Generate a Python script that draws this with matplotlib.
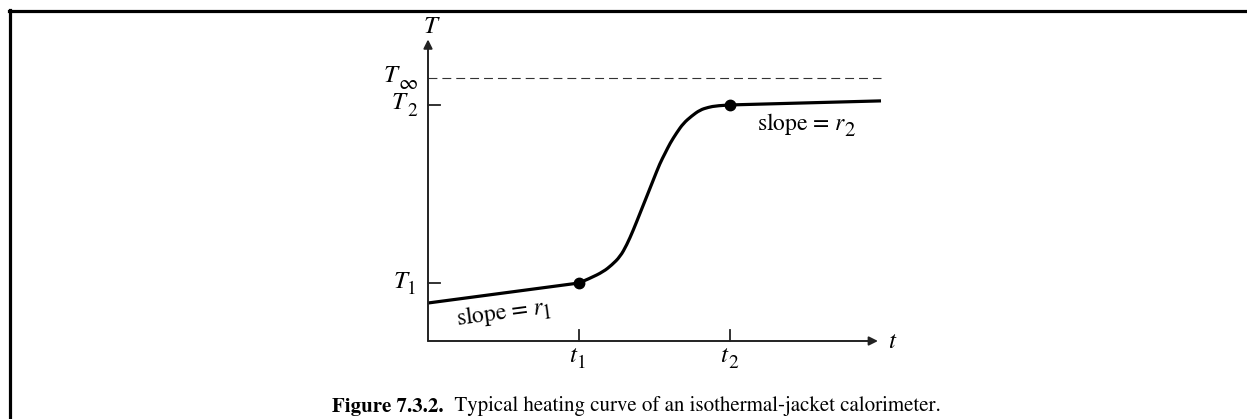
import matplotlib
matplotlib.use("Agg")
import matplotlib.pyplot as plt
from matplotlib.lines import Line2D
from matplotlib.path import Path
from matplotlib.patches import PathPatch

plt.rcParams['font.family'] = 'STIXGeneral'
plt.rcParams['mathtext.fontset'] = 'stix'

# valores (unidades arbitrarias)
t_marks = [1.0, 2.0]                  # t1, t2
T1, T2, T_inf = 1.0, 4.07, 4.53

# tramo inicial (pendiente r1), subida, tramo final (pendiente r2)
t_pre = [0.0, 1.0]
T_pre = [0.655, 1.0]
t_rise = [1.0, 1.073, 1.161, 1.217, 1.272, 1.316, 1.360, 1.404, 1.448, 1.492,
          1.536, 1.570, 1.603, 1.647, 1.691, 1.746, 1.801, 1.856, 1.912, 2.0]
T_rise = [1.0, 1.081, 1.195, 1.310, 1.453, 1.655, 1.914, 2.202, 2.488, 2.776,
          3.064, 3.236, 3.409, 3.591, 3.753, 3.879, 3.983, 4.029, 4.057, 4.07]
t_post = [2.0, 3.0]
T_post = [4.07, 4.14]

W, H = 1247, 419
x0, y0 = 428, 341       # origen de los ejes en pixeles
sx, sy = 151, 58        # pixeles por unidad


def P(xp, yp):
    """pixel de la imagen -> coordenadas de datos (solo para colocar textos)"""
    return (xp - x0) / sx, (y0 - yp) / sy


fig = plt.figure(figsize=(W / 100, H / 100), dpi=100)
ax = fig.add_axes([0, 0, 1, 1])
ax.set_xlim(-x0 / sx, (W - x0) / sx)
ax.set_ylim(-(H - y0) / sy, y0 / sy)
ax.axis('off')

# marco de la figura
fig.add_artist(Line2D([9 / W, 1.0], [1 - 11 / H, 1 - 11 / H], color='black', lw=2.3))
fig.add_artist(Line2D([10 / W, 10 / W], [0, 1 - 10 / H], color='black', lw=2.3))

# ejes con flechas
arr = dict(arrowstyle='-|>', lw=1.4, color='#222222', mutation_scale=13, shrinkA=0, shrinkB=0)
ax.annotate('', xy=(2.98, 0), xytext=(0, 0), arrowprops=arr)
ax.annotate('', xy=(0, 5.2), xytext=(0, 0), arrowprops=arr)

# marcas
for Tv in [T1, T2]:
    ax.plot([0, 0.08], [Tv, Tv], color='#222222', lw=1.3)
for tv in t_marks:
    ax.plot([tv, tv], [0, 0.19], color='#222222', lw=1.3)

ax.plot([0, 3.0], [T_inf, T_inf], color='#333333', lw=0.8, ls=(0, (8, 4.5)))

# curva
kw = dict(color='black', lw=2.3, solid_capstyle='butt')
ax.plot(t_pre, T_pre, **kw)
ax.plot(t_post, T_post, **kw)
# subida: curva suave (bezier cuadratica) con los puntos leidos como control
pts = list(zip(t_rise, T_rise))
verts = [pts[0]]
codes = [Path.MOVETO]
for i in range(1, len(pts) - 2):
    mid = ((pts[i][0] + pts[i + 1][0]) / 2, (pts[i][1] + pts[i + 1][1]) / 2)
    verts += [pts[i], mid]
    codes += [Path.CURVE3, Path.CURVE3]
verts += [pts[-2], pts[-1]]
codes += [Path.CURVE3, Path.CURVE3]
ax.add_patch(PathPatch(Path(verts, codes), fill=False, ec='black', lw=2.3))
ax.plot(t_marks, [T1, T2], 'o', color='black', ms=7.5)

fs = 18
fsub = 14


def main(xp, yp, s, ha='left', **kw):
    ax.text(*P(xp, yp), s, fontsize=fs, style='italic', ha=ha, va='baseline', **kw)


def sub(xp, yp, s, ha='left', size=fsub, **kw):
    ax.text(*P(xp, yp), s, fontsize=size, ha=ha, va='baseline', **kw)


main(430, 33, 'T', ha='center')
main(892, 348, 't', ha='center')
main(384, 82, 'T')
ax.text(*P(418, 89), r'$\infty$', fontsize=15, ha='right', va='baseline')
main(392, 109, 'T')
sub(417, 116, '2', ha='right')
main(394, 288, 'T')
sub(416, 294, '1', ha='right')
for tv, s in zip(t_marks, ['1', '2']):
    xp = x0 + sx * tv
    main(xp - 10, 362, 't')
    sub(xp - 2, 368, s)

# etiquetas de pendiente
ax.text(*P(457, 325), 'slope = $r$', fontsize=17, ha='left', va='baseline',
        rotation=7.5, rotation_mode='anchor')
sub(543, 319, '1', size=15, rotation=7.5, rotation_mode='anchor')
s2 = ax.text(*P(757, 130), 'slope = $r$', fontsize=17, ha='left', va='baseline')
ax.annotate('2', xy=(1, 0), xycoords=s2, xytext=(-1.5, 0.5), textcoords='offset points',
            fontsize=15, ha='left', va='baseline')

# pie de figura
cap = fig.text(332 / W, 1 - 412 / H, 'Figure 7.3.2.', fontsize=15,
               weight='bold', ha='left', va='baseline')
ax.annotate('  Typical heating curve of an isothermal-jacket calorimeter.',
            xy=(1, 0), xycoords=cap, fontsize=15, ha='left', va='bottom',
            annotation_clip=False)

fig.savefig('out.png', dpi=100)
